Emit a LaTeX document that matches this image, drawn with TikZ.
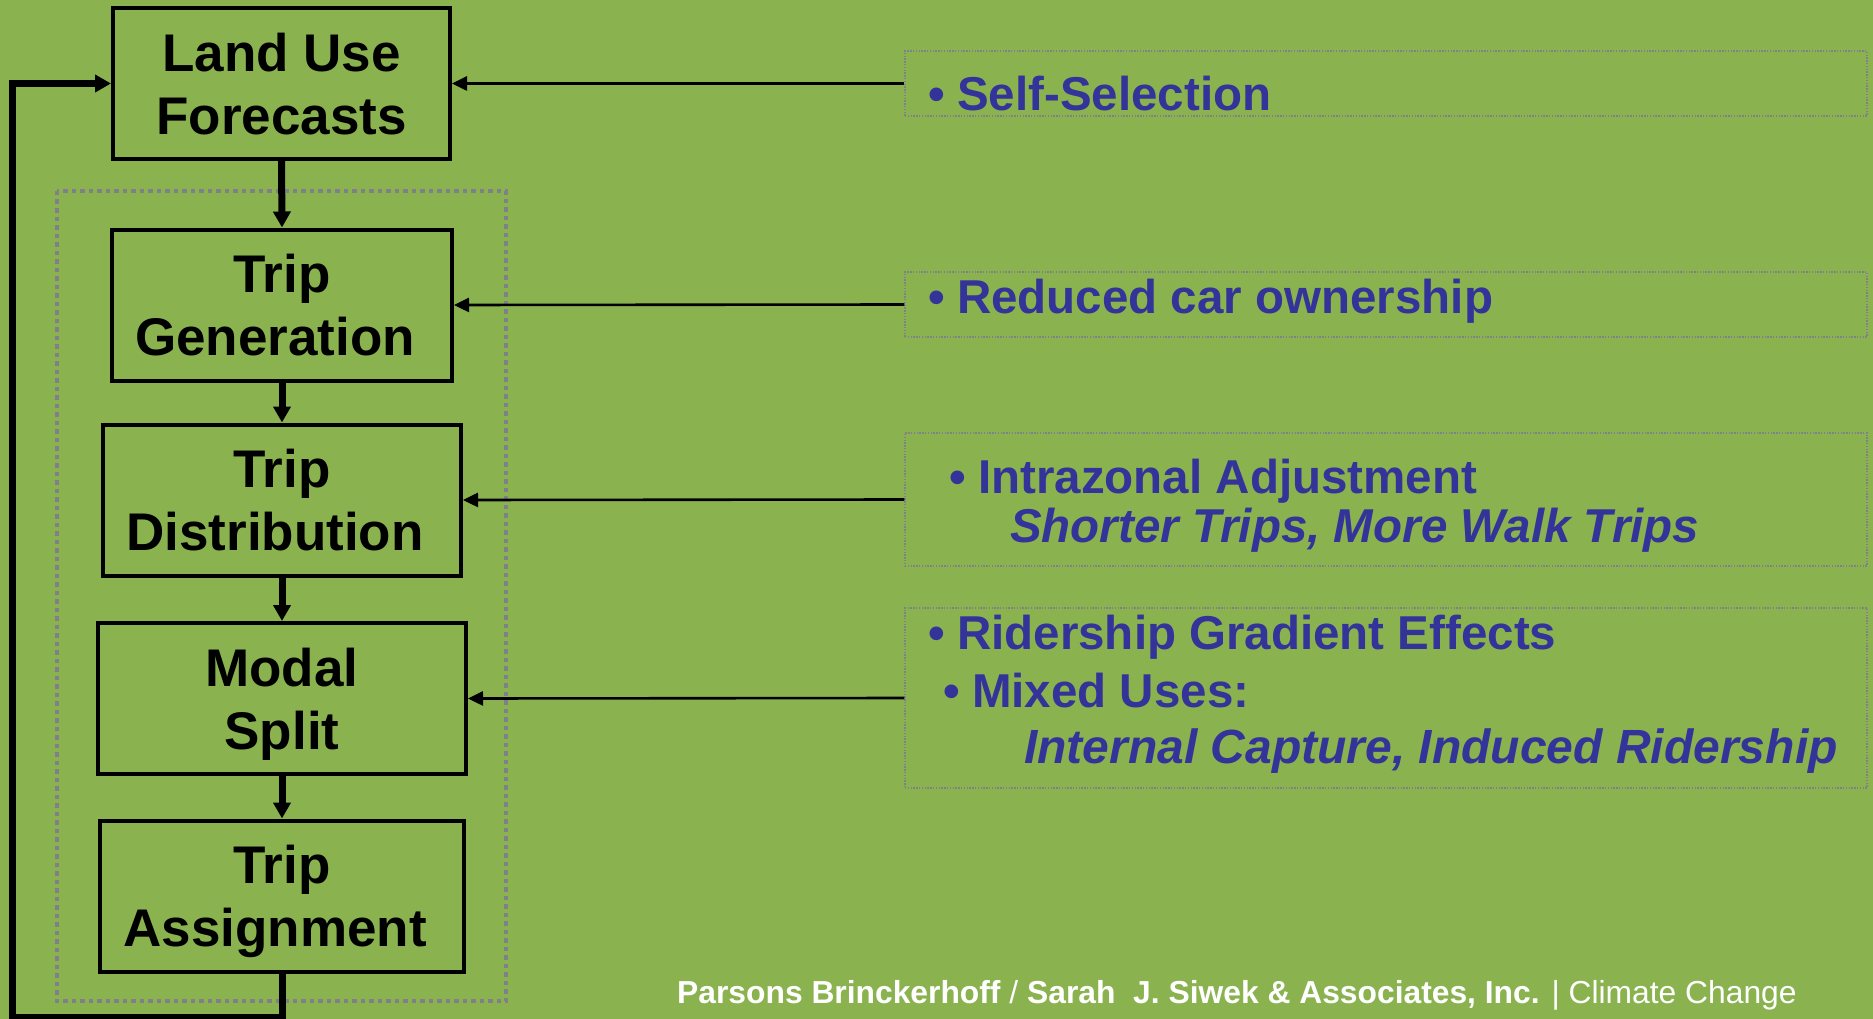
\documentclass[tikz,border=0pt]{standalone}
\usepackage{fontspec}
\setmainfont{Liberation Sans}
\usepackage{tikz}
\usetikzlibrary{arrows.meta, positioning}
\definecolor{slidegreen}{RGB}{138,179,80}
\definecolor{notesblue}{RGB}{51,51,153}
\definecolor{dotgray}{RGB}{128,128,140}

\begin{document}
\begin{tikzpicture}[
    x=1pt, y=-1pt,
    stage/.style={rectangle, draw, line width=4pt, inner sep=0pt, align=center, minimum height=151pt, text depth=0pt, font=\fontsize{53}{63}\selectfont\bfseries},
    note/.style={rectangle, draw=dotgray, line width=1.4pt, dash pattern=on 1.4pt off 1.4pt, minimum width=962pt, inner sep=0pt},
    txt/.style={anchor=base west, inner sep=0pt, text=notesblue, font=\fontsize{47.5}{57}\selectfont\bfseries},
    vflow/.style={line width=7pt, -{Triangle[length=16pt,width=17pt]}},
    hflow/.style={line width=2.6pt, -{Triangle[length=15pt,width=14pt]}}
]
% Slide background
\fill[slidegreen] (0,0) rectangle (1873,1019);
\useasboundingbox (0,0) rectangle (1873,1019);

% Model core frame
\draw[dotgray, line width=4.5pt, dash pattern=on 4.5pt off 4pt] (57,191) rectangle (506,1001);

% Four-step model
\node[stage, minimum width=337pt] (landuse) at (281.5,83.5) {Land Use\\Forecasts};
\node[stage, minimum width=340pt] (tripgen) at (282,305) {Trip\\Generation\kern14pt};
\node[stage, minimum width=358pt] (tripdist) at (282,500) {Trip\\Distribution\kern14pt};
\node[stage, minimum width=368pt] (modal) at (282,698.5) {Modal\\Split};
\node[stage, minimum width=364pt] (assign) at (282,896) {Trip\\Assignment\kern14pt};

\draw[vflow] (landuse.south) -- (tripgen.north);
\draw[vflow] (tripgen.south) -- (tripdist.north);
\draw[vflow] (tripdist.south) -- (modal.north);
\draw[vflow] (modal.south) -- (assign.north);

% Feedback loop
\coordinate (loopcorner) at (12.5,1017);
\draw[vflow] (assign.south) |- (loopcorner) |- (landuse.west);

% Effects
\node[note, minimum height=65pt] (selfsel) at (1386,83.5) {};
\node[note, minimum height=65pt] (carown) at (1386,304.5) {};
\node[note, minimum height=133pt] (intrazonal) at (1386,499.5) {};
\node[note, minimum height=180pt] (ridership) at (1386,698) {};

\node[txt] (t-selfsel) at (957,111) {\llap{\textbullet\hspace{12pt}}Self-Selection};
\node[txt] (t-carown) at (957,313) {\llap{\textbullet\hspace{12pt}}Reduced car ownership};
\node[txt] (t-intra) at (978,493) {\llap{\textbullet\hspace{12pt}}Intrazonal Adjustment};
\node[txt] (t-shorter) at (1010,542) {\itshape Shorter Trips, More Walk Trips};
\node[txt] (t-gradient) at (957,649) {\llap{\textbullet\hspace{12pt}}Ridership Gradient Effects};
\node[txt] (t-mixed) at (972,707) {\llap{\textbullet\hspace{12pt}}Mixed Uses:};
\node[txt] (t-capture) at (1024,763) {\fontsize{48}{57}\selectfont\itshape Internal Capture, Induced Ridership};

\draw[hflow] (selfsel.west) -- (landuse.east);
\draw[hflow] (carown.west) -- (tripgen.east);
\draw[hflow] (intrazonal.west) -- (tripdist.east);
\draw[hflow] (ridership.west) -- (modal.east);

% Footer
\node[anchor=base west, inner sep=0pt, text=white, font=\fontsize{31.8}{38}\selectfont] (credit) at (677,1003) {\textbf{Parsons Brinckerhoff} / \textbf{Sarah\ \ J. Siwek \& Associates, Inc.} | Climate Change};
\end{tikzpicture}
\end{document}
